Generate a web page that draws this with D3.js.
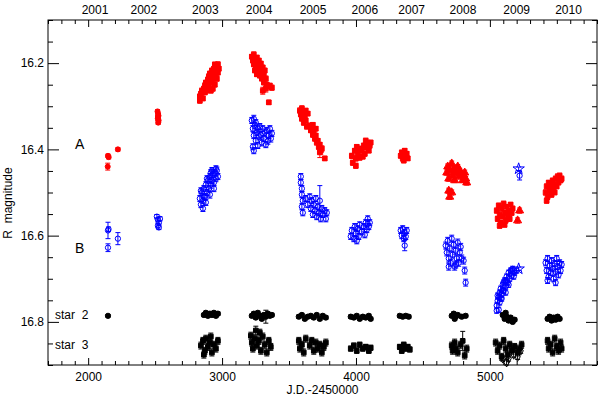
<!DOCTYPE html>
<html>
<head>
<meta charset="utf-8">
<script src="https://cdn.jsdelivr.net/npm/d3@7"></script>
<style>
	body { margin: 0; background: #fff; }
	text { font-family: "Liberation Sans", Arial, Helvetica, sans-serif; }
</style>
</head>
<body>
<svg id="chart" width="600" height="397"></svg>
<script>
;( function() {

	"use strict";

	//axis values
	var xMajor = [ 2000, 3000, 4000, 5000 ],
		yMajor = [ 16.2, 16.4, 16.6, 16.8 ],
		yearLabels = [ "2001", "2002", "2003", "2004", "2005", "2006", "2007", "2008", "2009", "2010" ],
		yearJD = [ 2051, 2416, 2875, 3277, 3679, 4066, 4416, 4799, 5200, 5587 ];

	//image A, red : [ JD-2450000, R mag, error ]
	var aCircle = [
		[2148,16.415,.004],[2153,16.418,.004],[2146,16.440,.008],[2222,16.400,.004],
		[2518,16.312,.004],[2522,16.318,.004],[2525,16.322,.004],[2520,16.328,.005],[2526,16.333,.004],[2523,16.338,.004],[2521,16.325,.004]
	];
	var aSquare = [
		[2834,16.287,.006],[2834,16.277,.005],[2842,16.271,.005],[2849,16.264,.006],[2857,16.282,.005],[2864,16.259,.005],[2872,16.252,.006],[2872,16.268,.005],[2879,16.245,.005],[2887,16.254,.006],[2894,16.238,.005],[2894,16.250,.005],[2901,16.231,.006],[2909,16.240,.005],[2909,16.224,.005],[2916,16.233,.006],[2924,16.217,.005],[2924,16.245,.005],[2931,16.226,.006],[2939,16.213,.005],[2939,16.236,.005],[2946,16.222,.006],[2954,16.208,.005],[2954,16.229,.005],[2961,16.217,.006],[2969,16.203,.006],[2969,16.222,.005],[2946,16.250,.005],[2931,16.259,.006],[2916,16.264,.005],
		[2857,16.268,.005],[2879,16.264,.005],[2901,16.254,.006],[2924,16.236,.005],[2946,16.203,.005],[2961,16.236,.006],[2976,16.213,.005],
		[3222,16.185,.005],[3230,16.194,.005],[3237,16.180,.006],[3237,16.203,.005],[3245,16.189,.005],[3252,16.199,.006],[3252,16.213,.005],[3260,16.187,.005],[3267,16.206,.006],[3267,16.222,.005],[3275,16.194,.005],[3282,16.213,.006],[3282,16.229,.005],[3290,16.201,.005],[3297,16.219,.006],[3297,16.236,.005],[3304,16.210,.005],[3312,16.226,.006],[3312,16.245,.005],[3319,16.217,.005],[3327,16.236,.006],[3327,16.259,.008],[3334,16.250,.005],[3342,16.254,.006],[3357,16.252,.005],[3372,16.257,.006],[3349,16.291,.005],[3304,16.264,.008],[3245,16.217,.005],[3260,16.226,.005],
		[3581,16.310,.006],[3588,16.319,.005],[3596,16.305,.006],[3596,16.329,.005],[3603,16.315,.005],[3610,16.338,.006],[3618,16.324,.005],[3625,16.333,.005],[3633,16.347,.006],[3640,16.317,.005],[3625,16.310,.005],[3655,16.345,.006],[3663,16.356,.005],[3670,16.349,.005],[3678,16.366,.006],[3685,16.356,.005],[3693,16.375,.006],[3700,16.368,.005],[3707,16.384,.006],[3715,16.380,.005],[3722,16.394,.006],[3730,16.389,.005],[3737,16.403,.008],[3745,16.398,.006],[3730,16.407,.012],[3767,16.421,.005],[3700,16.352,.005],[3678,16.343,.005],
		[3969,16.415,.006],[3976,16.431,.006],[3991,16.403,.005],[3999,16.421,.006],[4006,16.394,.005],[4013,16.410,.006],[4028,16.398,.005],[4043,16.403,.006],[4058,16.391,.005],[4066,16.410,.006],[4073,16.380,.006],[4081,16.396,.005],[4088,16.387,.008],[4096,16.403,.005],[4103,16.391,.006],[4110,16.384,.005],[3999,16.438,.006],[4051,16.417,.005],[4028,16.419,.006],
		[4334,16.415,.005],[4342,16.407,.005],[4349,16.421,.006],[4357,16.412,.005],[4364,16.403,.005],[4372,16.417,.006],[4379,16.410,.005],[4387,16.421,.005],[4357,16.426,.005],
		[5051,16.542,.006],[5058,16.561,.006],[5066,16.530,.005],[5073,16.551,.006],[5081,16.570,.005],[5088,16.537,.006],[5096,16.556,.005],[5103,16.526,.006],[5110,16.547,.005],[5118,16.565,.006],[5125,16.533,.005],[5133,16.554,.006],[5140,16.542,.005],[5148,16.561,.006],[5155,16.528,.005],[5163,16.547,.006],[5170,16.537,.005],[5073,16.577,.006],[5110,16.575,.005],
		[5416,16.500,.006],[5424,16.486,.006],[5431,16.510,.006],[5439,16.477,.005],[5446,16.496,.006],[5454,16.484,.005],[5461,16.505,.006],[5469,16.472,.005],[5476,16.491,.006],[5484,16.482,.005],[5491,16.468,.006],[5499,16.486,.005],[5506,16.463,.006],[5513,16.477,.005],[5521,16.461,.006],[5528,16.472,.005],[5536,16.468,.006],[5424,16.519,.006],[5484,16.500,.005]
	];
	var aTriangle = [
		[4678,16.454,.006],[4685,16.440,.006],[4693,16.468,.006],[4700,16.449,.005],[4715,16.433,.006],[4722,16.461,.005],[4730,16.445,.006],[4737,16.472,.005],[4745,16.454,.006],[4760,16.440,.005],[4767,16.463,.006],[4775,16.449,.005],[4790,16.458,.006],[4797,16.472,.005],[4812,16.454,.006],[4819,16.468,.005],[4827,16.477,.006],[4693,16.496,.006],[4700,16.510,.006],[4715,16.500,.006],
		[5222,16.542,.006],[5207,16.565,.006]
	];

	//image B, blue
	var bCircle = [
		[2148,16.588,.019],[2152,16.585,.005],[2148,16.628,.009],[2222,16.607,.014],
		[2513,16.556,.005],[2521,16.563,.005],[2528,16.570,.005],[2521,16.577,.005],[2536,16.561,.005],[2528,16.581,.005],
		[2834,16.514,.007],[2842,16.528,.007],[2849,16.500,.008],[2857,16.519,.007],[2864,16.491,.007],[2872,16.510,.008],[2879,16.482,.007],[2887,16.500,.007],[2894,16.472,.008],[2901,16.491,.007],[2909,16.463,.007],[2916,16.482,.008],[2924,16.472,.007],[2931,16.458,.007],[2939,16.477,.008],[2946,16.454,.007],[2954,16.468,.007],[2961,16.449,.008],[2969,16.463,.007],[2857,16.537,.007],[2879,16.523,.007],[2909,16.505,.008],[2939,16.491,.007],[2924,16.449,.007],
		[2842,16.496,.007],[2864,16.510,.007],[2887,16.468,.007],[2916,16.454,.007],[2954,16.445,.007],
		[3222,16.333,.007],[3230,16.352,.007],[3237,16.329,.008],[3237,16.368,.007],[3245,16.345,.007],[3252,16.380,.008],[3252,16.338,.007],[3260,16.361,.007],[3267,16.352,.008],[3230,16.394,.007],[3237,16.403,.007],[3275,16.370,.008],[3282,16.347,.007],[3290,16.366,.007],[3297,16.384,.008],[3304,16.352,.007],[3312,16.375,.007],[3319,16.361,.008],[3327,16.389,.007],[3334,16.356,.007],[3342,16.380,.008],[3349,16.368,.007],[3357,16.352,.007],[3364,16.375,.008],[3372,16.363,.007],[3267,16.391,.007],
		[3588,16.463,.007],[3588,16.477,.007],[3596,16.491,.007],[3596,16.505,.007],[3603,16.519,.007],[3596,16.533,.007],[3603,16.547,.007],[3625,16.514,.007],[3640,16.528,.007],[3655,16.510,.007],[3663,16.537,.007],[3670,16.519,.007],[3678,16.551,.007],[3685,16.528,.007],[3693,16.542,.007],[3700,16.514,.007],[3707,16.556,.007],[3715,16.533,.007],[3722,16.547,.007],[3730,16.519,.035],[3737,16.561,.007],[3745,16.537,.007],[3752,16.551,.007],[3767,16.542,.007],[3775,16.561,.007],[3782,16.547,.007],
		[3961,16.602,.007],[3969,16.588,.007],[3984,16.607,.007],[3991,16.579,.007],[3999,16.595,.007],[4013,16.584,.007],[4021,16.602,.007],[4028,16.575,.007],[4043,16.591,.007],[4058,16.579,.007],[4066,16.598,.007],[4073,16.570,.007],[4081,16.586,.007],[4088,16.561,.007],[4096,16.579,.007],[4103,16.570,.007],[4006,16.612,.007],
		[4334,16.588,.007],[4342,16.600,.007],[4349,16.584,.007],[4357,16.607,.007],[4364,16.593,.007],[4372,16.602,.007],[4379,16.588,.007],[4364,16.623,.012],
		[4670,16.623,.008],[4678,16.639,.008],[4685,16.612,.008],[4693,16.653,.008],[4700,16.630,.008],[4707,16.663,.008],[4715,16.607,.008],[4722,16.644,.008],[4730,16.621,.008],[4737,16.672,.008],[4745,16.635,.008],[4752,16.653,.008],[4760,16.616,.008],[4767,16.663,.008],[4775,16.639,.008],[4782,16.626,.008],[4790,16.653,.008],[4804,16.658,.008],[4812,16.681,.008],[4819,16.709,.008],[4693,16.672,.008],[4745,16.667,.008],
		[5051,16.762,.006],[5058,16.751,.006],[5066,16.742,.006],[5073,16.732,.006],[5073,16.755,.006],[5081,16.723,.006],[5088,16.737,.006],[5096,16.714,.006],[5103,16.728,.006],[5110,16.704,.006],[5118,16.718,.006],[5125,16.695,.006],[5133,16.709,.006],[5140,16.686,.006],[5148,16.700,.006],[5155,16.681,.006],[5163,16.693,.006],[5170,16.677,.006],[5185,16.686,.006],[5200,16.681,.006],[5066,16.772,.006],[5088,16.746,.006],[5118,16.732,.006],[5103,16.709,.006],[5222,16.461,.010],
		[5058,16.739,.006],[5081,16.746,.006],[5096,16.728,.006],[5118,16.704,.006],[5140,16.714,.006],[5163,16.681,.006],[5178,16.695,.006],[5051,16.774,.006],
		[5416,16.663,.007],[5424,16.681,.007],[5431,16.653,.007],[5439,16.695,.007],[5446,16.670,.007],[5454,16.686,.007],[5461,16.658,.007],[5469,16.677,.007],[5476,16.700,.007],[5484,16.665,.007],[5491,16.684,.007],[5499,16.653,.007],[5506,16.672,.007],[5513,16.691,.007],[5521,16.663,.007],[5528,16.681,.007],[5536,16.667,.007],[5431,16.704,.007],[5491,16.709,.007]
	];
	var bStar = [ [5215,16.445,.004], [5215,16.677,.004] ];

	//comparison stars, black
	var star2 = [
		[2148,16.786,.003],
		[2864,16.784,.004],[2879,16.779,.004],[2894,16.786,.004],[2909,16.781,.004],[2924,16.784,.004],[2939,16.779,.004],[2954,16.786,.004],[2969,16.781,.004],
		[3222,16.786,.004],[3237,16.781,.004],[3252,16.790,.004],[3267,16.779,.004],[3282,16.786,.004],[3297,16.793,.004],[3312,16.784,.004],[3327,16.788,.015],[3342,16.781,.004],[3357,16.786,.004],[3372,16.784,.004],
		[3573,16.788,.004],[3596,16.784,.004],[3618,16.793,.004],[3640,16.788,.004],[3663,16.786,.004],[3685,16.790,.004],[3707,16.784,.004],[3730,16.793,.004],[3752,16.786,.004],[3775,16.790,.004],
		[3961,16.788,.004],[3984,16.790,.004],[4006,16.786,.004],[4028,16.793,.004],[4051,16.788,.004],[4073,16.790,.004],[4096,16.786,.004],[4110,16.793,.004],
		[4327,16.786,.004],[4349,16.788,.004],[4372,16.786,.004],[4394,16.788,.004],
		[4715,16.786,.004],[4730,16.781,.004],[4745,16.788,.004],[4760,16.784,.004],[4790,16.788,.004],[4819,16.786,.004],[4737,16.793,.004],
		[5096,16.784,.004],[5110,16.793,.004],[5125,16.788,.004],[5140,16.797,.004],[5155,16.790,.004],[5170,16.800,.004],[5185,16.795,.004],[5118,16.779,.004],
		[5431,16.793,.004],[5446,16.788,.004],[5461,16.797,.004],[5476,16.790,.004],[5491,16.795,.004],[5506,16.788,.004],[5521,16.793,.004]
	];
	var star3 = [
		[2842,16.855,.008],[2857,16.844,.008],[2872,16.867,.008],[2879,16.839,.008],[2894,16.858,.008],[2909,16.848,.008],[2924,16.871,.008],[2939,16.853,.008],[2954,16.862,.008],[2969,16.844,.008],[2864,16.876,.008],[2916,16.834,.008],
		[3215,16.832,.008],[3222,16.848,.008],[3230,16.862,.008],[3245,16.839,.008],[3252,16.820,.010],[3260,16.855,.008],[3275,16.844,.008],[3290,16.867,.008],[3304,16.834,.008],[3319,16.853,.008],[3334,16.871,.008],[3349,16.844,.008],[3364,16.858,.008],[3282,16.825,.008],
		[3573,16.844,.008],[3581,16.862,.008],[3596,16.853,.008],[3610,16.871,.008],[3625,16.839,.008],[3655,16.855,.008],[3670,16.844,.008],[3685,16.867,.008],[3700,16.848,.008],[3715,16.862,.008],[3730,16.853,.008],[3745,16.871,.008],[3760,16.858,.008],[3775,16.848,.008],
		[3961,16.862,.006],[3984,16.855,.006],[4006,16.867,.006],[4028,16.853,.006],[4051,16.862,.006],[4073,16.858,.006],[4096,16.867,.006],[4110,16.860,.006],
		[4327,16.858,.006],[4342,16.867,.006],[4357,16.853,.006],[4372,16.862,.006],[4387,16.858,.006],[4402,16.864,.006],
		[4715,16.855,.008],[4722,16.867,.008],[4737,16.848,.008],[4745,16.862,.008],[4760,16.871,.008],[4782,16.853,.008],[4797,16.844,.022],[4812,16.878,.008],[4827,16.862,.008],
		[5043,16.848,.008],[5058,16.867,.008],[5073,16.855,.008],[5088,16.881,.008],[5103,16.844,.008],[5118,16.862,.008],[5133,16.876,.008],[5148,16.853,.008],[5163,16.867,.008],[5185,16.858,.008],[5207,16.871,.008],[5222,16.862,.008],[5237,16.853,.008],
		[5431,16.844,.008],[5439,16.862,.008],[5454,16.853,.008],[5469,16.871,.008],[5484,16.839,.008],[5499,16.858,.008],[5513,16.867,.008],[5528,16.848,.008],[5536,16.862,.008]
	];
	var star3Open = [ [5096,16.885,.006],[5140,16.885,.006],[5178,16.876,.006],[5207,16.881,.006],[5230,16.867,.006],[5125,16.894,.006] ];

	//geometry
	var left = 48, right = 597, top = 20, bottom = 365,
		capHalf = 2.5;

	var svg = d3.select( "#chart" );

	var x = d3.scaleLinear().domain( [ 1700, 5800 ] ).range( [ left, right ] ),
		y = d3.scaleLinear().domain( [ 16.1, 16.9 ] ).range( [ top, bottom ] );

	var xMinor = d3.range( 1700, 5801, 100 ).filter( function( d ) { return xMajor.indexOf( d ) < 0; } ),
		yMinor = d3.range( 16.1, 16.901, 0.05 ).map( function( d ) { return Math.round( d * 100 ) / 100; } )
			.filter( function( d ) { return yMajor.indexOf( d ) < 0; } );

	//frame
	svg.append( "rect" )
		.attr( "x", left ).attr( "y", top )
		.attr( "width", right - left ).attr( "height", bottom - top )
		.attr( "fill", "none" ).attr( "stroke", "#000" ).attr( "stroke-width", 1 );

	var axisStyle = function( g ) {
		g.select( ".domain" ).remove();
		g.selectAll( "line" ).attr( "stroke", "#000" );
		g.selectAll( "text" ).attr( "font-family", "Liberation Sans, Arial, sans-serif" ).attr( "font-size", 12 ).attr( "fill", "#000" );
	};

	//bottom
	svg.append( "g" ).attr( "transform", "translate(0," + bottom + ")" )
		.call( d3.axisBottom( x ).tickValues( xMinor ).tickSize( -4 ).tickFormat( "" ) ).call( axisStyle );
	svg.append( "g" ).attr( "transform", "translate(0," + bottom + ")" )
		.call( d3.axisBottom( x ).tickValues( xMajor ).tickSize( -7 ).tickPadding( 7 ).tickFormat( d3.format( "d" ) ) ).call( axisStyle );
	//top
	svg.append( "g" ).attr( "transform", "translate(0," + top + ")" )
		.call( d3.axisTop( x ).tickValues( xMinor ).tickSize( -4 ).tickFormat( "" ) ).call( axisStyle );
	svg.append( "g" ).attr( "transform", "translate(0," + top + ")" )
		.call( d3.axisTop( x ).tickValues( xMajor ).tickSize( -7 ).tickFormat( "" ) ).call( axisStyle );
	//left
	svg.append( "g" ).attr( "transform", "translate(" + left + ",0)" )
		.call( d3.axisLeft( y ).tickValues( yMinor ).tickSize( -5 ).tickFormat( "" ) ).call( axisStyle );
	svg.append( "g" ).attr( "transform", "translate(" + left + ",0)" )
		.call( d3.axisLeft( y ).tickValues( yMajor ).tickSize( -11 ).tickPadding( 4 ).tickFormat( d3.format( ".1f" ) ) ).call( axisStyle );
	//right
	svg.append( "g" ).attr( "transform", "translate(" + right + ",0)" )
		.call( d3.axisRight( y ).tickValues( yMinor ).tickSize( -5 ).tickFormat( "" ) ).call( axisStyle );
	svg.append( "g" ).attr( "transform", "translate(" + right + ",0)" )
		.call( d3.axisRight( y ).tickValues( yMajor ).tickSize( -11 ).tickFormat( "" ) ).call( axisStyle );

	//year labels on top
	svg.append( "g" ).selectAll( "text" ).data( yearLabels ).enter()
		.append( "text" )
		.attr( "x", function( d, i ) { return x( yearJD[ i ] ); } )
		.attr( "y", 14 )
		.attr( "text-anchor", "middle" )
		.attr( "font-size", 12 )
		.text( function( d ) { return d; } );

	//axis titles
	svg.append( "text" )
		.attr( "x", ( left + right ) / 2 ).attr( "y", 394 )
		.attr( "text-anchor", "middle" ).attr( "font-size", 12 )
		.text( "J.D.-2450000" );
	svg.append( "text" )
		.attr( "transform", "translate(12,203) rotate(-90)" )
		.attr( "text-anchor", "middle" ).attr( "font-size", 12 )
		.style( "white-space", "pre" )
		.text( "R  magnitude" );

	//curve labels
	svg.append( "text" ).attr( "x", 75 ).attr( "y", 149 ).attr( "font-size", 14 ).text( "A" );
	svg.append( "text" ).attr( "x", 75 ).attr( "y", 253 ).attr( "font-size", 14 ).text( "B" );
	svg.append( "text" ).attr( "x", 55 ).attr( "y", 319 ).attr( "font-size", 12 ).style( "white-space", "pre" ).text( "star  2" );
	svg.append( "text" ).attr( "x", 55 ).attr( "y", 349 ).attr( "font-size", 12 ).style( "white-space", "pre" ).text( "star  3" );

	//data layers
	var layers = [
		{ data: aCircle, color: "#ff0000", type: d3.symbolCircle, size: 20, filled: true },
		{ data: aSquare, color: "#ff0000", type: d3.symbolSquare, size: 22, filled: true },
		{ data: aTriangle, color: "#ff0000", type: d3.symbolTriangle, size: 28, filled: true },
		{ data: bCircle, color: "#0000ff", type: d3.symbolCircle, size: 22, filled: false },
		{ data: bStar, color: "#0000ff", type: d3.symbolStar, size: 40, filled: false },
		{ data: star2, color: "#000000", type: d3.symbolCircle, size: 22, filled: true },
		{ data: star3, color: "#000000", type: d3.symbolSquare, size: 22, filled: true },
		{ data: star3Open, color: "#000000", type: d3.symbolDiamond, size: 24, filled: false }
	];

	layers.forEach( function( layer ) {

		var g = svg.append( "g" );

		//error bars
		g.selectAll( ".err" ).data( layer.data ).enter()
			.append( "path" )
			.attr( "class", "err" )
			.attr( "fill", "none" )
			.attr( "stroke", layer.color )
			.attr( "stroke-width", 1 )
			.attr( "d", function( d ) {
				var px = x( d[ 0 ] ), y1 = y( d[ 1 ] - d[ 2 ] ), y2 = y( d[ 1 ] + d[ 2 ] );
				return "M" + px + "," + y1 + "V" + y2 +
					"M" + ( px - capHalf ) + "," + y1 + "H" + ( px + capHalf ) +
					"M" + ( px - capHalf ) + "," + y2 + "H" + ( px + capHalf );
			} );

		//markers
		g.selectAll( ".pt" ).data( layer.data ).enter()
			.append( "path" )
			.attr( "class", "pt" )
			.attr( "transform", function( d ) { return "translate(" + x( d[ 0 ] ) + "," + y( d[ 1 ] ) + ")"; } )
			.attr( "d", d3.symbol().type( layer.type ).size( layer.size ) )
			.attr( "fill", layer.filled ? layer.color : "none" )
			.attr( "stroke", layer.color )
			.attr( "stroke-width", 1 );

	} );

} )();
</script>
</body>
</html>
